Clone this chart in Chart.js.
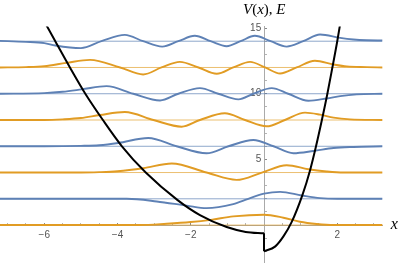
<!DOCTYPE html>
<html>
<head>
<meta charset="utf-8">
<script src="https://cdn.jsdelivr.net/npm/chart.js@4.4.0/dist/chart.umd.min.js"></script>
<style>
  html, body { margin: 0; padding: 0; background: #fff; }
  #wrap { width: 400px; height: 265px; }
</style>
</head>
<body>
<div id="wrap"><canvas id="graph" width="400" height="265"></canvas></div>
<script>
// energy levels, one wavefunction drawn on each
const energies = [0, 2, 4, 6, 8, 10, 12, 14]

// wavefunctions: x positions and offset from their energy level
const psi0X = [-7.25, -3.4, -2.66, -2.0, -1.45, -0.84, 0, 0.53, 0.98, 1.44, 1.9, 3.25]
const psi0Y = [0, 0, 0.1, 0.23, 0.4, 0.66, 0.79, 0.56, 0.25, 0.08, 0, 0]
const psi1X = [-7.25, -3.75, -2.93, -2.11, -1.57, -0.84, -0.43, 0, 0.44, 1.03, 1.53, 2.0, 3.25]
const psi1Y = [0, 0, -0.2, -0.52, -0.71, -0.4, 0, 0.39, 0.53, 0.25, 0.05, 0, 0]
const psi2X = [-7.25, -5, -4.5, -4, -3.3, -2.52, -1.57, -0.75, -0.06, 0.62, 1.21, 1.71, 2.17, 3.25]
const psi2Y = [0, 0, 0.03, 0.1, 0.33, 0.69, 0, -0.56, 0, 0.56, 0.25, 0.08, 0, 0]
const psi3X = [-7.25, -6, -5, -4.5, -3.98, -3.16, -2.39, -1.57, -0.97, -0.29, 0.26, 0.8, 1.35, 1.9, 2.44, 3.25]
const psi3Y = [0, 0, 0.03, 0.08, 0.25, 0.63, 0, -0.53, 0, 0.48, 0, -0.53, -0.36, -0.13, -0.05, 0]
const psi4X = [-7.25, -6, -5.5, -5, -4.48, -3.8, -3.02, -2.25, -1.75, -1.07, -0.52, 0.07, 0.57, 1.12, 1.53, 1.9, 2.35, 3.25]
const psi4Y = [0, 0, 0.05, 0.15, 0.38, 0.61, 0, -0.51, 0, 0.51, 0, -0.48, 0, 0.56, 0.41, 0.18, 0.05, 0]
const psi5X = [-7.25, -6, -5.5, -4.98, -4.3, -3.57, -2.84, -2.34, -1.75, -1.25, -0.7, -0.29, 0.21, 0.66, 1.21, 1.71, 2.08, 2.53, 3.25]
const psi5Y = [0, 0.05, 0.15, 0.33, 0.58, 0, -0.51, 0, 0.43, 0, -0.43, 0, 0.43, 0, -0.53, -0.36, -0.18, -0.05, 0]
const psi6X = [-7.25, -6.5, -6, -5.4, -4.75, -3.93, -3.3, -2.8, -2.3, -1.79, -1.29, -0.84, -0.38, 0.03, 0.44, 0.89, 1.39, 1.9, 2.26, 2.8, 3.25]
const psi6Y = [0, 0.03, 0.1, 0.35, 0.58, 0, -0.53, 0, 0.43, 0, -0.48, 0, 0.43, 0, -0.46, 0, 0.51, 0.23, 0.08, 0.03, 0]
const psi7X = [-7.25, -6.5, -6, -5.7, -5.0, -4.44, -3.8, -3.3, -2.78, -2.34, -1.89, -1.46, -1.02, -0.64, -0.25, 0.18, 0.62, 1.07, 1.53, 2.08, 2.44, 2.8, 3.25]
const psi7Y = [0.03, -0.05, -0.15, -0.33, -0.53, 0, 0.48, 0, -0.41, 0, 0.41, 0, -0.38, 0, 0.41, 0, -0.41, 0, 0.51, 0.25, 0.13, 0.07, 0.05]

// potential V(x): left branch, step at x = 0, right branch
const potLeftX = [-6.0, -5.7, -5.3, -4.88, -4.4, -3.88, -3.23, -2.36, -1.75, -1.02, -0.5, 0]
const potLeftY = [15.5, 14, 12, 10, 8, 6, 4, 1.9, 0.76, -0.15, -0.52, -0.63]
const potRightX = [0, 0.3, 0.53, 0.75, 1.05, 1.26, 1.42, 1.58, 1.73, 1.86, 2.0, 2.12]
const potRightY = [-2, -1.64, -0.86, 0.2, 2.3, 4.2, 6, 8, 10, 11.9, 14, 16]

// axes
const xMin = -7.21, xMax = 3.23
const yMin = -2.85, yMax = 15.12
const xTicksMajor = [-6, -4, -2, 2]
const yTicksMajor = [5, 10, 15]
const topTitle = [['V', true], ['(', false], ['x', true], ['), ', false], ['E', true]]
const rightTitle = 'x'

const psiX = [psi0X, psi1X, psi2X, psi3X, psi4X, psi5X, psi6X, psi7X]
const psiY = [psi0Y, psi1Y, psi2Y, psi3Y, psi4Y, psi5Y, psi6Y, psi7Y]

const blue = '#5e81b5'
const orange = '#e19c24'

const pts = (xs, ys, off = 0) => xs.map((x, i) => ({ x: x, y: ys[i] + off }))

const datasets = []
datasets.push({ data: pts(potLeftX, potLeftY), borderColor: '#000', borderWidth: 2, cubicInterpolationMode: 'monotone', order: 0 })
datasets.push({ data: [{ x: 0, y: potLeftY[potLeftY.length - 1] }, { x: 0, y: potRightY[0] }], borderColor: '#000', borderWidth: 2, order: 0 })
datasets.push({ data: pts(potRightX, potRightY), borderColor: '#000', borderWidth: 2, cubicInterpolationMode: 'monotone', order: 0 })

energies.forEach((e, i) => {
    const isBlue = i % 2 === 1
    datasets.push({
        data: pts(psiX[i], psiY[i], e),
        borderColor: isBlue ? blue : orange,
        borderWidth: 1.9,
        cubicInterpolationMode: 'monotone',
        order: 1
    })
    datasets.push({
        data: [{ x: xMin, y: e }, { x: xMax, y: e }],
        borderColor: isBlue ? 'rgba(94,129,181,0.7)' : 'rgba(225,156,36,0.65)',
        borderWidth: 1,
        order: 2
    })
})

const fmt = v => v < 0 ? '\u2212' + Math.abs(v) : String(v)

// scales sit inside the plot, so keep their label overflow out of the layout
const noPad = s => { s.paddingLeft = 0; s.paddingRight = 0; s.paddingTop = 0; s.paddingBottom = 0 }

// axis titles in Mathematica style (italic serif)
const axisTitles = {
    id: 'axisTitles',
    afterDraw(chart) {
        const c = chart.ctx
        const xs = chart.scales.x, ys = chart.scales.y
        c.save()
        c.fillStyle = '#000'
        c.textBaseline = 'alphabetic'
        let px = xs.getPixelForValue(0) - 21
        topTitle.forEach(([t, it]) => {
            c.font = (it ? 'italic ' : '') + '15px "Liberation Serif"'
            c.fillText(t, px, 14)
            px += c.measureText(t).width
        })
        c.font = 'italic 16px "Liberation Serif"'
        c.fillText(rightTitle, xs.right + 8.5, ys.getPixelForValue(0) + 3.5)
        c.restore()
    }
}

const ctx = document.querySelector('#graph').getContext('2d')
new Chart(ctx, {
    type: 'line',
    data: { datasets: datasets },
    plugins: [axisTitles],
    options: {
        responsive: false,
        animation: false,
        parsing: false,
        layout: { padding: { left: 0, right: 17.7, top: 26.5, bottom: 2.5 } },
        elements: { point: { radius: 0 } },
        plugins: { legend: { display: false }, tooltip: { enabled: false } },
        scales: {
            x: {
                type: 'linear', min: xMin, max: xMax, position: { y: 0 },
                afterFit: noPad,
                border: { color: '#aaa', width: 1 },
                grid: {
                    drawOnChartArea: false, tickLength: -3,
                    tickColor: c => xTicksMajor.includes(c.tick.value) ? '#888' : '#b4b4b4'
                },
                ticks: {
                    stepSize: 0.5, includeBounds: false, autoSkip: false, maxRotation: 0,
                    padding: 7, color: '#555', font: { family: 'Liberation Sans', size: 10 },
                    callback: v => xTicksMajor.includes(v) ? fmt(v) : ''
                }
            },
            y: {
                type: 'linear', min: yMin, max: yMax, position: { x: 0 },
                afterFit: noPad,
                border: { color: '#aaa', width: 1 },
                grid: {
                    drawOnChartArea: false, tickLength: -3,
                    tickColor: c => yTicksMajor.includes(c.tick.value) ? '#888' : '#b4b4b4'
                },
                ticks: {
                    stepSize: 1, includeBounds: false, autoSkip: false,
                    padding: 4, color: '#555', font: { family: 'Liberation Sans', size: 10 },
                    callback: v => yTicksMajor.includes(v) ? String(v) + ' ' : ''
                }
            }
        }
    }
})
</script>
</body>
</html>
